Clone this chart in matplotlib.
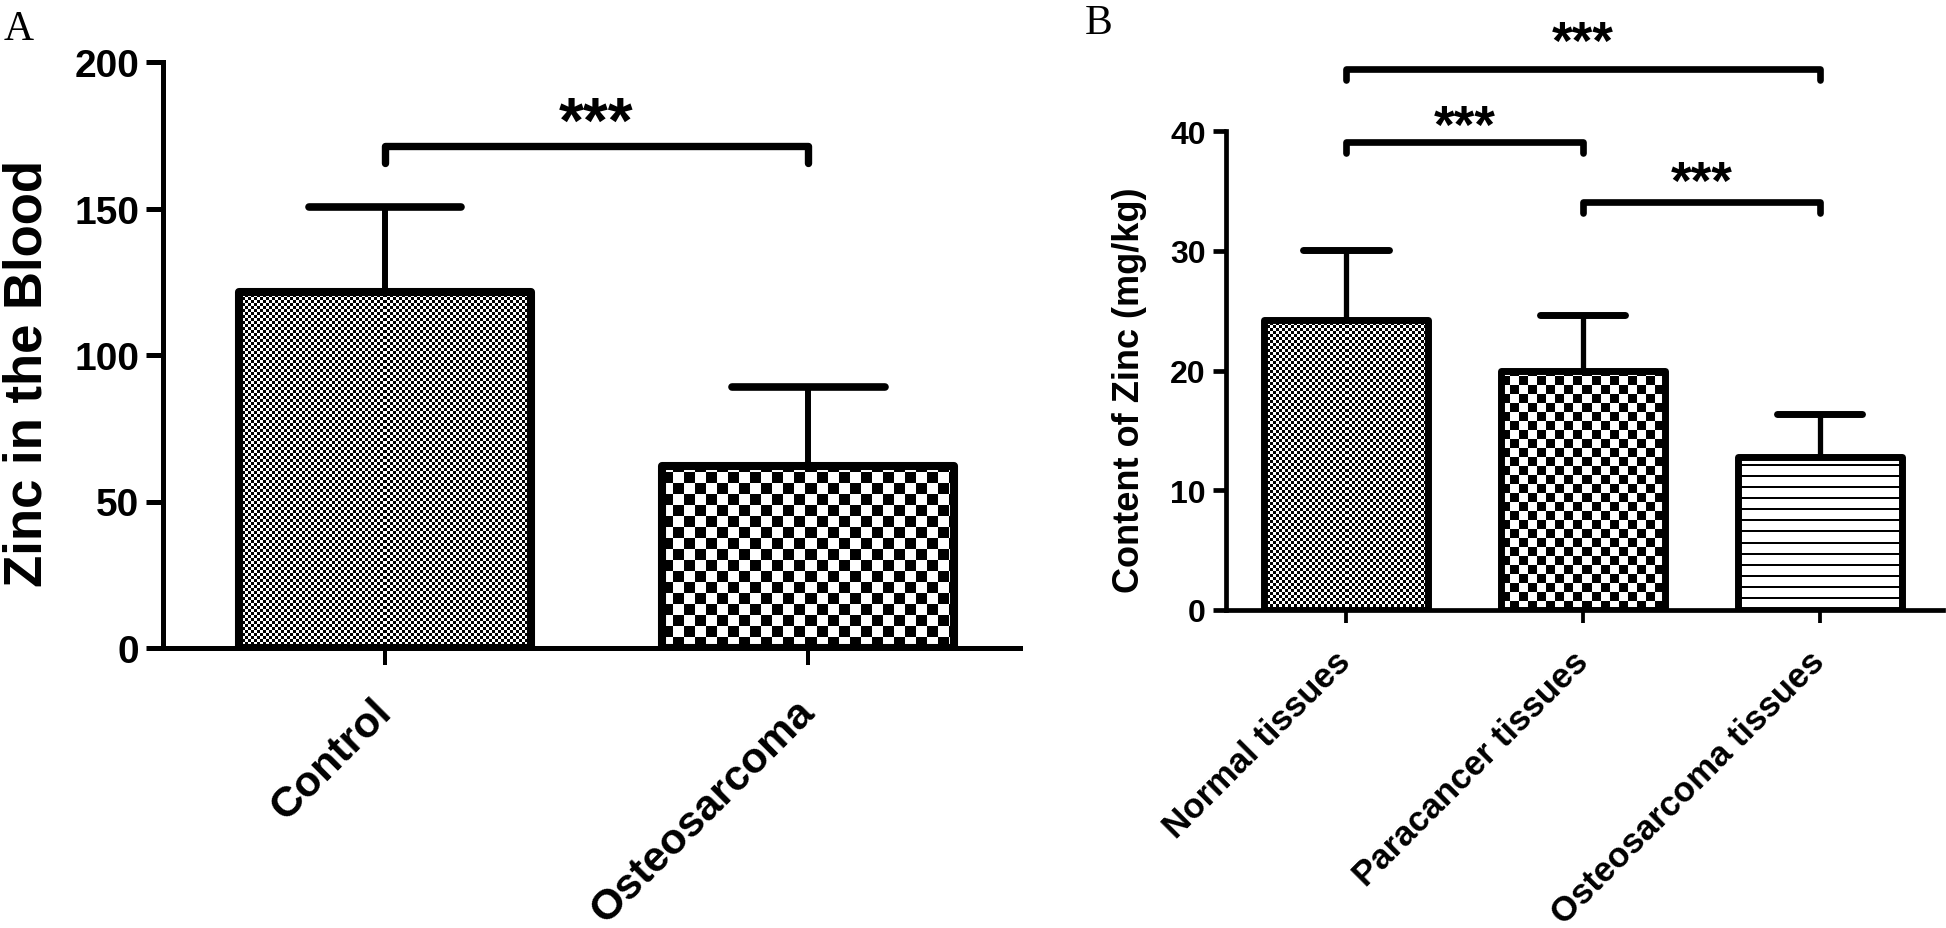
import numpy as np
import matplotlib
matplotlib.use('Agg')
import matplotlib.pyplot as plt
from matplotlib.transforms import ScaledTranslation

plt.rcParams['font.family'] = ['Liberation Sans', 'DejaVu Sans']
plt.rcParams['font.weight'] = 'bold'

# ---- data, panel A (blood)
a_groups = ['Control', 'Osteosarcoma']
a_means = [121.5, 62.0]
a_errs = [29.0, 27.0]
a_yticks = [0, 50, 100, 150, 200]
a_pairs = [(0, 1)]
a_stars = ['***']

# ---- data, panel B (tissues)
b_groups = ['Normal tissues', 'Paracancer tissues', 'Osteosarcoma tissues']
b_means = [24.2, 20.0, 12.8]
b_errs = [5.9, 4.6, 3.6]
b_yticks = [0, 10, 20, 30, 40]
b_pairs = [(0, 2), (0, 1), (1, 2)]
b_stars = ['***', '***', '***']

DPI = 100
fig = plt.figure(figsize=(19.46, 9.29), dpi=DPI)


def px_axes(l, t, r, b):
    # axes box given in figure pixels (left, top, right, bottom)
    W, H = 1946, 929
    return fig.add_axes([l / W, (H - b) / H, (r - l) / W, (b - t) / H])


def pattern_fill(ax, bar, kind, cell):
    x0, y0 = bar.get_x(), bar.get_y()
    x1, y1 = x0 + bar.get_width(), y0 + bar.get_height()
    (px0, py0), (px1, py1) = ax.transData.transform([(x0, y0), (x1, y1)])
    w, h = int(round(px1 - px0)), int(round(py1 - py0))
    i, j = np.indices((h, w))
    if kind == 'check':
        img = (i // cell + j // cell) % 2
    else:
        img = ((i % cell) < 2).astype(int)
    ax.imshow(img, cmap='gray_r', vmin=0, vmax=1, origin='lower',
              extent=(x0, x1, y0, y1), aspect='auto',
              interpolation='nearest', zorder=2, clip_path=bar)


def panel(ax, groups, means, errs, yticks, pairs, stars, patterns, st):
    x = np.arange(len(groups))
    ax.set_xlim(st['xlim'])
    ax.set_ylim(yticks[0], yticks[-1])
    bars = ax.bar(x, means, width=0.69, facecolor='none', edgecolor='black',
                  linewidth=st['bar_lw'], joinstyle='round', zorder=3)
    for b, (kind, cell) in zip(bars, patterns):
        pattern_fill(ax, b, kind, cell)
    tops = np.array(means) + np.array(errs)
    ax.vlines(x, means, tops, color='black', lw=st['err_lw'], zorder=2.5)
    ax.hlines(tops, x - 0.18, x + 0.18, color='black', lw=st['cap_lw'],
              capstyle='round', zorder=2.5)
    for (g1, g2), s, yb, so in zip(pairs, stars, st['brackets'], st['star_off']):
        ax.plot([g1, g1, g2, g2], [yb - st['drop'], yb, yb, yb - st['drop']],
                color='black', lw=st['br_lw'], solid_capstyle='round',
                solid_joinstyle='round', clip_on=False)
        ax.text((g1 + g2) / 2, yb + so, s, ha='center',
                va='baseline', fontsize=st['star_fs'], clip_on=False)
    ax.set_xlim(st['xlim'])
    ax.set_ylim(yticks[0], yticks[-1])
    ax.set_yticks(yticks)
    ax.set_xticks(x)
    ax.set_xticklabels(groups, rotation=45, ha='right', va='center',
                       rotation_mode='anchor', fontsize=st['xt_fs'])
    off = ScaledTranslation(st['xt_dx'] / DPI, 0, fig.dpi_scale_trans)
    for lab in ax.get_xticklabels():
        lab.set_transform(lab.get_transform() + off)
    ax.tick_params(axis='y', labelsize=st['yt_fs'], length=st['tick_len'],
                   width=st['spine_lw'], pad=5)
    ax.tick_params(axis='x', length=st['tick_len'], width=st['spine_lw'] * 0.8,
                   pad=st['xt_pad'])
    for sp in ['top', 'right']:
        ax.spines[sp].set_visible(False)
    for sp in ['left', 'bottom']:
        ax.spines[sp].set_linewidth(st['spine_lw'])
    ax.text(st['ylab_pos'][0], st['ylab_pos'][1], st['ylabel'],
            transform=ax.transAxes, rotation=90, ha='center', va='center',
            fontsize=st['ylab_fs'])


axA = px_axes(163, 63, 1020, 649)
panel(axA, a_groups, a_means, a_errs, a_yticks, a_pairs, a_stars,
      [('check', 3), ('check', 11)],
      dict(xlim=(-0.524, 1.5), bar_lw=5.8, err_lw=4.3, cap_lw=5.5, br_lw=5.3,
           brackets=[171.3], drop=5.8, star_off=[1.3], star_fs=46,
           xt_fs=31, xt_dx=28, xt_pad=29, yt_fs=28, tick_len=12, spine_lw=3.6,
           ylabel='Zinc in the Blood', ylab_pos=(-0.158, 0.471), ylab_fs=38))

axB = px_axes(1226, 132, 1943, 611)
panel(axB, b_groups, b_means, b_errs, b_yticks, b_pairs, b_stars,
      [('check', 3), ('check', 9), ('lines', 11)],
      dict(xlim=(-0.506, 2.52), bar_lw=5.0, err_lw=3.8, cap_lw=5.0, br_lw=4.8,
           brackets=[45.2, 39.1, 34.1], drop=0.95, star_off=[0.9, 0.0, 0.3],
           star_fs=38,
           xt_fs=25, xt_dx=18, xt_pad=24, yt_fs=23, tick_len=9.5, spine_lw=3.4,
           ylabel='Content of Zinc (mg/kg)', ylab_pos=(-0.134, 0.461),
           ylab_fs=26))

fig.text(4 / 1946, 1 - 10 / 929, 'A', family='Liberation Serif',
         fontweight='normal', fontsize=30, ha='left', va='top')
fig.text(1085 / 1946, 1 - 4 / 929, 'B', family='Liberation Serif',
         fontweight='normal', fontsize=30, ha='left', va='top')

fig.savefig('out.png', dpi=DPI)
